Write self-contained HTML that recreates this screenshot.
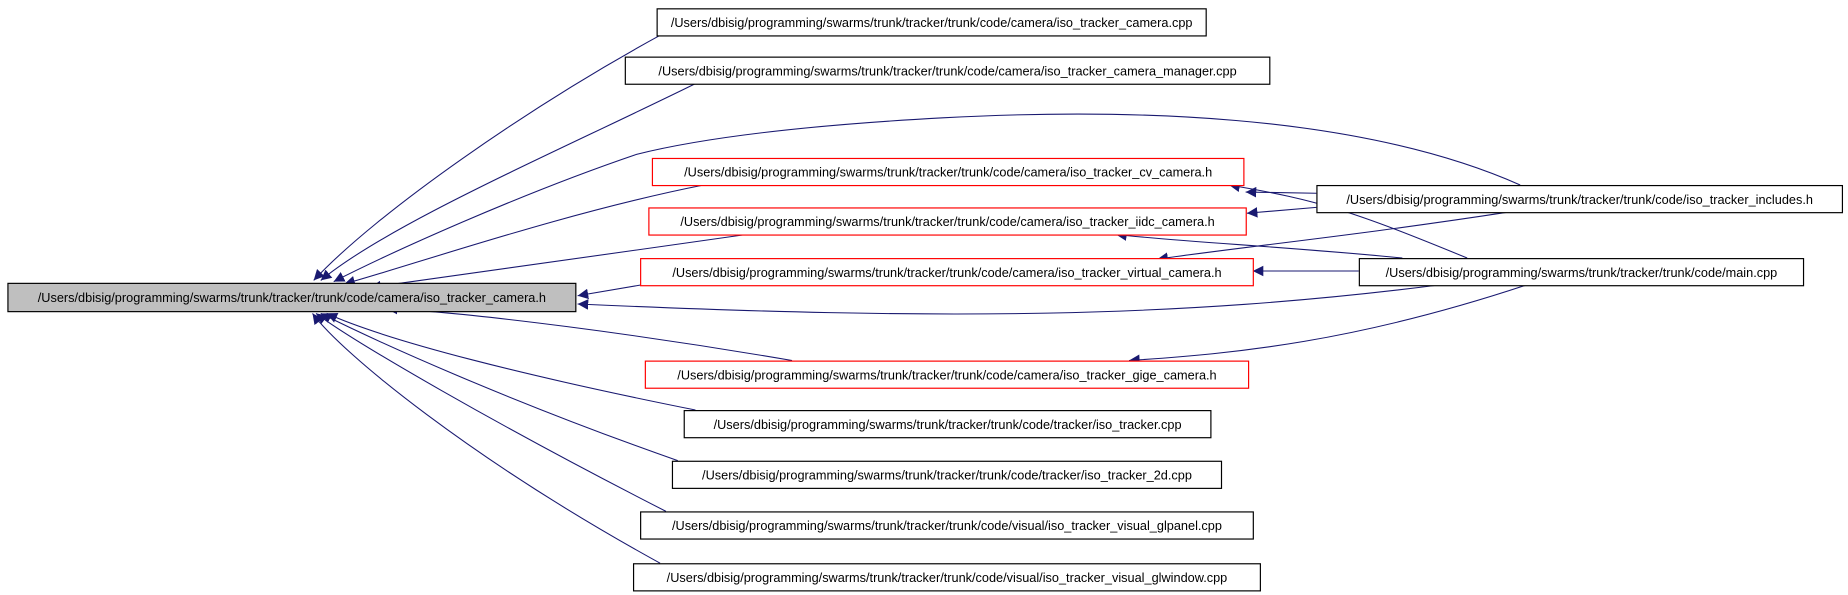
<!DOCTYPE html>
<html><head><meta charset="utf-8"><style>
html,body{margin:0;padding:0;background:#fff;}
svg{display:block;}
text{font-family:"Liberation Sans",Arial,sans-serif;font-size:10.8px;fill:#000;}
</style></head><body>
<svg width="1848" height="595" viewBox="0 0 1568 505" xmlns="http://www.w3.org/2000/svg">
<defs>
<marker id="a" viewBox="0 0 10 10" refX="10" refY="5" markerWidth="9" markerHeight="9" markerUnits="userSpaceOnUse" orient="auto">
<path d="M0,0 L10,5 L0,10 z" fill="#191970"/>
</marker>
</defs>
<g fill="none" stroke="#191970" stroke-width="0.9" marker-end="url(#a)">
<path d="M560,30 C450,90 320,180 266,238"/>
<path d="M590,71 C470,130 330,190 272,238"/>
<path d="M1290,157 C1150,95 950,92 800,100 C690,106 600,116 540,131 C440,165 330,215 283,239"/>
<path d="M597,157 C480,180 350,225 292,241"/>
<path d="M633,199 C520,215 380,235 314,244"/>
<path d="M543,242 L490,251"/>
<path d="M1220,242 C1000,270 800,272 490,258"/>
<path d="M672,306 C550,285 400,265 328,262"/>
<path d="M590,348 C450,320 330,290 277,266"/>
<path d="M575,391 C430,340 320,290 272,266"/>
<path d="M565,434 C420,360 300,290 268,266"/>
<path d="M560,478 C400,390 290,300 265,266"/>
<path d="M1117,164 L1057,163"/>
<path d="M1117,176 L1058,181"/>
<path d="M1280,180 C1150,200 1050,210 982,220"/>
<path d="M1245,219 C1150,180 1120,170 1043,157"/>
<path d="M1190,219 C1100,210 1000,205 947,199"/>
<path d="M1153,230 L1063,230"/>
<path d="M1295,242 C1150,290 1050,300 958,306"/>
</g>
<g stroke-width="1">
<rect x="6.5" y="240.5" width="482" height="24" fill="#bfbfbf" stroke="#000"/>
<rect x="557.5" y="7.5" width="466" height="23" fill="#fff" stroke="#000"/>
<rect x="530.5" y="48.5" width="547" height="23" fill="#fff" stroke="#000"/>
<rect x="553.5" y="134.5" width="502" height="23" fill="#fff" stroke="#f00"/>
<rect x="550.5" y="176.5" width="507" height="23" fill="#fff" stroke="#f00"/>
<rect x="543.5" y="219.5" width="520" height="23" fill="#fff" stroke="#f00"/>
<rect x="547.5" y="306.5" width="512" height="23" fill="#fff" stroke="#f00"/>
<rect x="580.5" y="348.5" width="447" height="23" fill="#fff" stroke="#000"/>
<rect x="570.5" y="391.5" width="466" height="23" fill="#fff" stroke="#000"/>
<rect x="543.5" y="434.5" width="520" height="23" fill="#fff" stroke="#000"/>
<rect x="537.5" y="478.5" width="532" height="23" fill="#fff" stroke="#000"/>
<rect x="1117.5" y="157.5" width="446" height="23" fill="#fff" stroke="#000"/>
<rect x="1153.5" y="219.5" width="377" height="23" fill="#fff" stroke="#000"/>
</g>
<g text-anchor="middle">
<text x="247.5" y="256.5">/Users/dbisig/programming/swarms/trunk/tracker/trunk/code/camera/iso_tracker_camera.h</text>
<text x="790.5" y="23">/Users/dbisig/programming/swarms/trunk/tracker/trunk/code/camera/iso_tracker_camera.cpp</text>
<text x="804" y="64">/Users/dbisig/programming/swarms/trunk/tracker/trunk/code/camera/iso_tracker_camera_manager.cpp</text>
<text x="804.5" y="150">/Users/dbisig/programming/swarms/trunk/tracker/trunk/code/camera/iso_tracker_cv_camera.h</text>
<text x="804" y="192">/Users/dbisig/programming/swarms/trunk/tracker/trunk/code/camera/iso_tracker_iidc_camera.h</text>
<text x="803.5" y="235">/Users/dbisig/programming/swarms/trunk/tracker/trunk/code/camera/iso_tracker_virtual_camera.h</text>
<text x="803.5" y="322">/Users/dbisig/programming/swarms/trunk/tracker/trunk/code/camera/iso_tracker_gige_camera.h</text>
<text x="804" y="364">/Users/dbisig/programming/swarms/trunk/tracker/trunk/code/tracker/iso_tracker.cpp</text>
<text x="803.5" y="407">/Users/dbisig/programming/swarms/trunk/tracker/trunk/code/tracker/iso_tracker_2d.cpp</text>
<text x="803.5" y="450">/Users/dbisig/programming/swarms/trunk/tracker/trunk/code/visual/iso_tracker_visual_glpanel.cpp</text>
<text x="803.5" y="494">/Users/dbisig/programming/swarms/trunk/tracker/trunk/code/visual/iso_tracker_visual_glwindow.cpp</text>
<text x="1340.5" y="173">/Users/dbisig/programming/swarms/trunk/tracker/trunk/code/iso_tracker_includes.h</text>
<text x="1342" y="235">/Users/dbisig/programming/swarms/trunk/tracker/trunk/code/main.cpp</text>
</g>
</svg>
</body></html>
